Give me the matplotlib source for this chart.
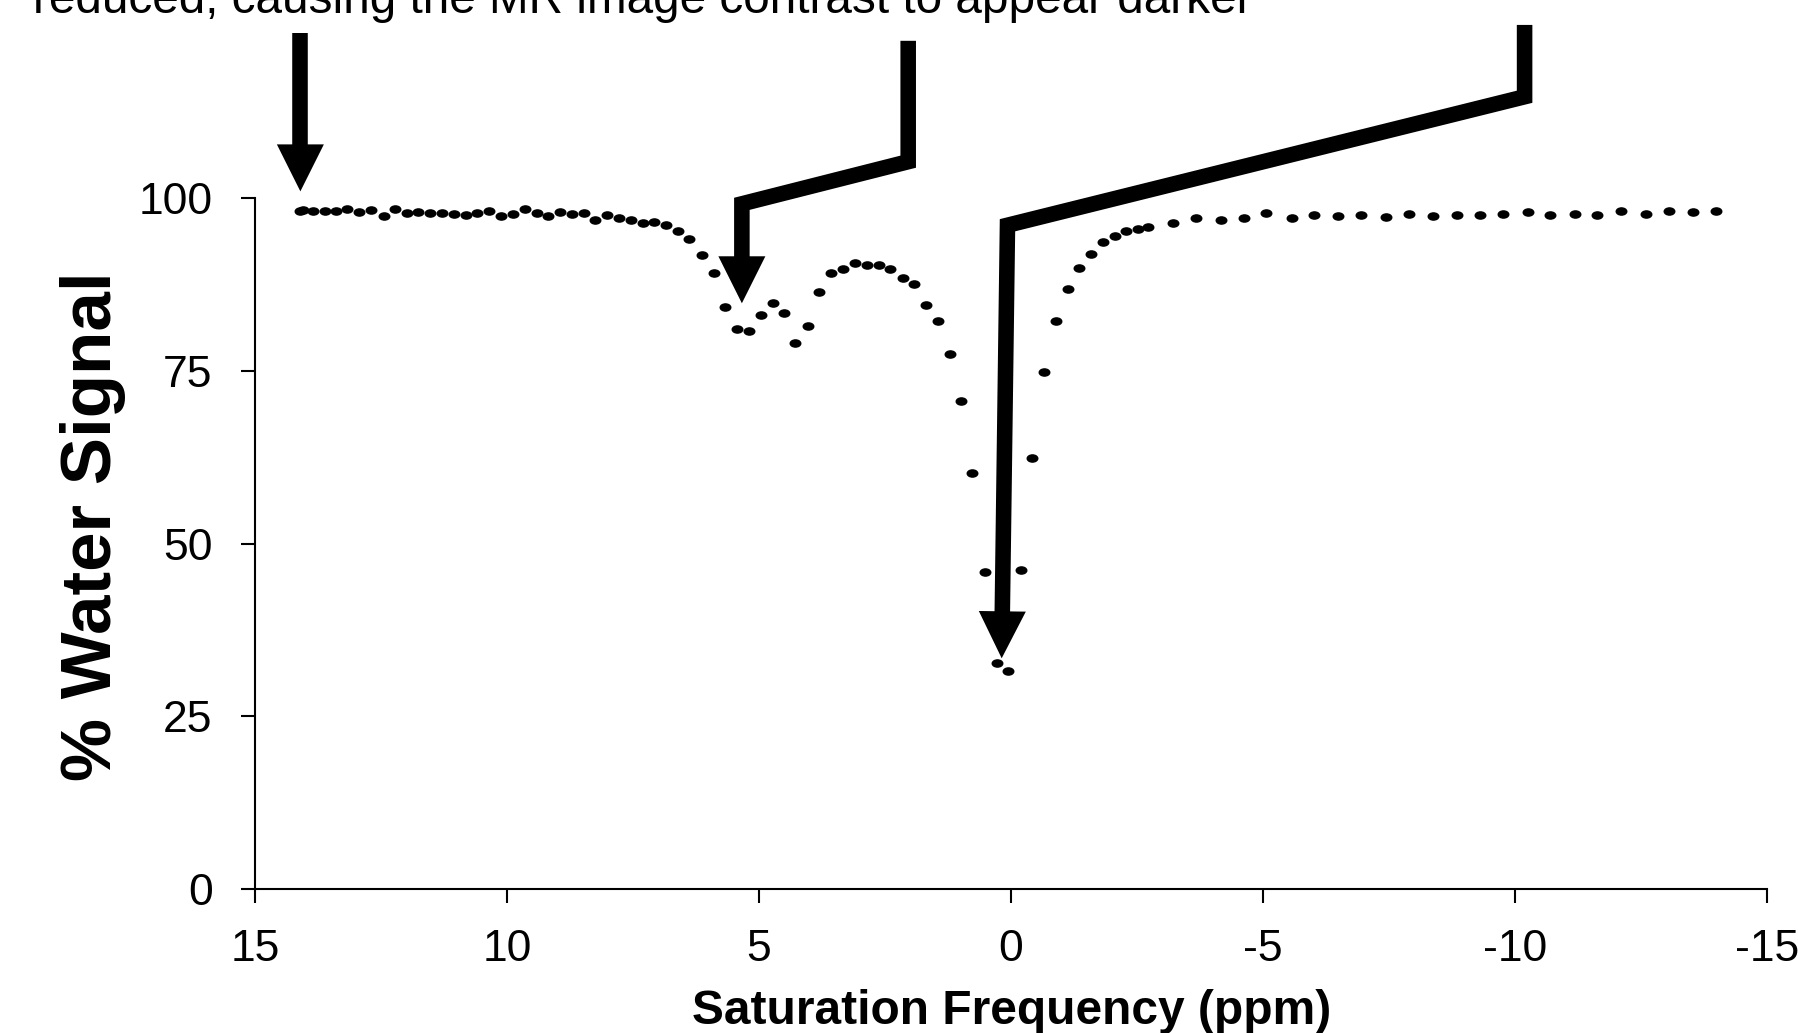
import numpy as np
import matplotlib.pyplot as plt

plt.rcParams['font.family'] = ['Liberation Sans', 'DejaVu Sans']

# z-spectrum (ppm, % water signal)
freq_ppm = [14.10, 14.04, 13.85, 13.61, 13.39, 13.17, 12.93, 12.70, 12.45, 12.22,
            11.99, 11.76, 11.53, 11.28, 11.05, 10.81, 10.59, 10.36, 10.11, 9.89,
            9.65, 9.41, 9.18, 8.94, 8.71, 8.48, 8.25, 8.01, 7.77, 7.54,
            7.30, 7.08, 6.85, 6.60, 6.38, 6.13, 5.90, 5.68, 5.44, 5.20,
            4.97, 4.73, 4.50, 4.28, 4.02, 3.80, 3.57, 3.34, 3.10, 2.86,
            2.62, 2.40, 2.15, 1.93, 1.68, 1.45, 1.22, 0.99, 0.77, 0.51,
            0.28, 0.06, -0.19, -0.41, -0.66, -0.89, -1.13, -1.35, -1.59, -1.83,
            -2.06, -2.28, -2.51, -2.71, -3.22, -3.68, -4.16, -4.62, -5.06, -5.57,
            -6.02, -6.49, -6.94, -7.44, -7.90, -8.37, -8.84, -9.30, -9.77, -10.25,
            -10.70, -11.19, -11.63, -12.10, -12.60, -13.05, -13.53, -13.99]
signal = [98.2, 98.3, 98.1, 98.1, 98.1, 98.4, 98.0, 98.3, 97.5, 98.5,
          97.9, 98.0, 97.9, 97.8, 97.7, 97.6, 97.8, 98.1, 97.4, 97.7,
          98.4, 97.9, 97.4, 98.0, 97.7, 97.8, 96.9, 97.6, 97.1, 96.8,
          96.4, 96.6, 96.2, 95.3, 94.1, 91.8, 89.2, 84.2, 81.1, 80.8,
          83.1, 84.8, 83.4, 79.0, 81.5, 86.4, 89.2, 89.8, 90.7, 90.4,
          90.4, 89.8, 88.5, 87.6, 84.5, 82.3, 77.4, 70.6, 60.3, 45.9,
          32.7, 31.6, 46.2, 62.4, 74.8, 82.3, 86.9, 89.9, 92.0, 93.6,
          94.5, 95.2, 95.5, 95.8, 96.4, 97.1, 96.8, 97.2, 97.9, 97.2,
          97.6, 97.5, 97.6, 97.3, 97.7, 97.4, 97.6, 97.6, 97.7, 98.0,
          97.6, 97.7, 97.6, 98.1, 97.7, 98.1, 98.0, 98.1]

x_ticks = [15, 10, 5, 0, -5, -10, -15]
y_ticks = [0, 25, 50, 75, 100]

# annotation arrows (bent pointers), last point is the tip
arrow1_x = [14.10, 14.10]
arrow1_y = [124.0, 101.0]
arrow2_x = [2.04, 2.04, 5.34, 5.34]
arrow2_y = [122.8, 105.3, 99.2, 84.8]
arrow3_x = [-10.19, -10.19, 0.07, 0.185]
arrow3_y = [125.1, 114.7, 96.1, 33.4]

caption = 'reduced, causing the MR image contrast to appear darker'

fig = plt.figure(figsize=(17.99, 10.33), dpi=100)
ax = fig.add_axes([0.14175, 0.1394, 0.84047, 0.66864])

ax.set_xlim(15, -15)
ax.set_ylim(0, 100)

# elliptical dots like the original export
from matplotlib.path import Path
from matplotlib.transforms import Affine2D
ell = Path.unit_circle().transformed(Affine2D().scale(1.0, 0.68))
ax.plot(freq_ppm, signal, linestyle='none', marker=ell, markersize=7.6,
        color='black', clip_on=False)

ax.set_xticks(x_ticks)
ax.set_xticklabels([str(v) for v in x_ticks])
ax.set_yticks(y_ticks)
for side in ['top', 'right']:
    ax.spines[side].set_visible(False)
for side in ['left', 'bottom']:
    ax.spines[side].set_linewidth(1.5)
ax.tick_params(axis='both', direction='out', length=10, width=1.5, labelsize=32)
ax.tick_params(axis='x', pad=18.5)
ax.tick_params(axis='y', pad=20.5)

ax.set_xlabel('Saturation Frequency (ppm)', fontsize=34.5, fontweight='bold')
ax.xaxis.set_label_coords(0.5003, -0.1455)
ax.set_ylabel('% Water Signal', fontsize=51, fontweight='bold')
ax.yaxis.set_label_coords(-0.085, 0.526)

fig.text(33 / 1799, 1 - 13.3 / 1033, caption, fontsize=34.4,
         ha='left', va='baseline')

head_len = 47.0
head_half = 23.5
arrow_lw = 11.2


def draw_arrow(xs, ys):
    disp = ax.transData.transform(np.column_stack([xs, ys]))
    tip, prev = disp[-1], disp[-2]
    d = tip - prev
    d = d / np.hypot(d[0], d[1])
    base = tip - d * head_len
    line = np.vstack([disp[:-1], base + d * 2])
    line = ax.transData.inverted().transform(line)
    ax.plot(line[:, 0], line[:, 1], color='black', lw=arrow_lw,
            solid_joinstyle='miter', solid_capstyle='butt', clip_on=False)
    perp = np.array([-d[1], d[0]])
    tri = np.array([tip, base + perp * head_half, base - perp * head_half])
    tri = ax.transData.inverted().transform(tri)
    ax.fill(tri[:, 0], tri[:, 1], color='black', lw=0, clip_on=False)


draw_arrow(arrow1_x, arrow1_y)
draw_arrow(arrow2_x, arrow2_y)
draw_arrow(arrow3_x, arrow3_y)

fig.savefig('out.png', dpi=100)
